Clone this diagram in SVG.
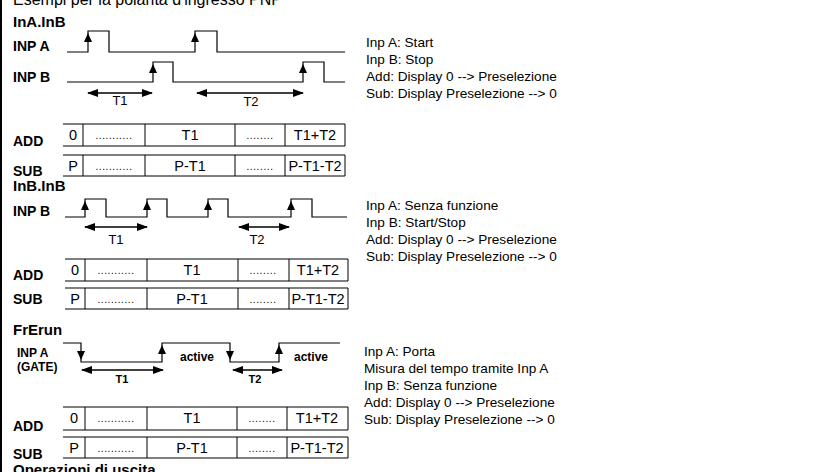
<svg xmlns="http://www.w3.org/2000/svg" width="824" height="472" viewBox="0 0 824 472">
<style>
text{font-family:"Liberation Sans",Arial,sans-serif;fill:#000}
.h{font-size:15px;font-weight:bold}
.lb{font-size:14px;font-weight:bold}
.sm{font-size:12px;font-weight:bold}
.t{font-size:13px}
.c{font-size:14.5px;text-anchor:middle}
.d{font-size:10px;text-anchor:middle;letter-spacing:0.6px}
.r{font-size:13.6px}
.w{fill:none;stroke:#000;stroke-width:1.2}
.g{fill:none;stroke:#000;stroke-width:1}
.a{fill:none;stroke:#000;stroke-width:1.5;marker-start:url(#ah);marker-end:url(#ah)}
</style>
<defs>
<marker id="ah" markerUnits="userSpaceOnUse" markerWidth="11" markerHeight="8" refX="10" refY="4" orient="auto-start-reverse"><path d="M0,0 L11,4 L0,8 Z" fill="#000"/></marker>
<path id="up" d="M0,0 L-4,9 L4,9 Z" fill="#000"/>
<path id="dn" d="M0,0 L-4,-9 L4,-9 Z" fill="#000"/>
</defs>
<rect x="0" y="0" width="2" height="472" fill="#000"/>
<text x="13" y="5" style="font-size:16px">Esempi per la polarità d'ingresso PNP</text>

<g id="sec1">
<text class="h" x="13" y="27">InA.InB</text>
<text class="lb" x="13" y="51">INP A</text>
<text class="lb" x="13" y="82">INP B</text>
<g id="sec1-wave">
<path class="w" d="M67,52 H88 V31 H109 V52 H195 V31 H217 V52 H345"/>
<path class="w" d="M67,82 H153 V62 H173 V82 H303 V62 H324 V82 H345"/>
<use href="#up" x="88" y="33"/><use href="#up" x="195" y="33"/>
<use href="#up" x="153" y="64"/><use href="#up" x="303" y="64"/>
<line class="a" x1="88" y1="93" x2="152" y2="93"/>
<line class="a" x1="197" y1="93" x2="303" y2="93"/>
<text class="t" x="120" y="105" text-anchor="middle">T1</text>
<text class="t" x="251" y="106" text-anchor="middle">T2</text>
</g>
<g id="sec1-text">
<text class="r" x="366" y="47">Inp A: Start</text>
<text class="r" x="366" y="64">Inp B: Stop</text>
<text class="r" x="366" y="81">Add: Display 0 --&gt; Preselezione</text>
<text class="r" x="366" y="98">Sub: Display Preselezione --&gt; 0</text>
</g>
<g id="sec1-table">
<text class="lb" x="13" y="146">ADD</text>
<text class="lb" x="13" y="176">SUB</text>
<path class="g" d="M63,124 H345 M63,146 H345 M83,124 V146 M145,124 V146 M235,124 V146 M285,124 V146 M345,124 V146"/>
<path class="g" d="M63,155 H345 M63,176 H345 M83,155 V176 M145,155 V176 M235,155 V176 M285,155 V176 M345,155 V176"/>
<text class="c" x="73" y="140">0</text><text class="d" x="114" y="139">...........</text><text class="c" x="190" y="140">T1</text><text class="d" x="260" y="139">........</text><text class="c" x="315" y="140">T1+T2</text>
<text class="c" x="73" y="171">P</text><text class="d" x="114" y="170">...........</text><text class="c" x="190" y="171">P-T1</text><text class="d" x="260" y="170">........</text><text class="c" x="315" y="171">P-T1-T2</text>
</g>
</g>

<g id="sec2">
<text class="h" x="13" y="191">InB.InB</text>
<text class="lb" x="13" y="216">INP B</text>
<g id="sec2-wave">
<path class="w" d="M65,217 H85 V199 H106 V217 H147 V199 H167 V217 H208 V199 H228 V217 H291 V199 H312 V217 H347"/>
<use href="#up" x="85" y="201"/><use href="#up" x="147" y="201"/><use href="#up" x="208" y="201"/><use href="#up" x="291" y="201"/>
<line class="a" x1="85" y1="227" x2="147" y2="227"/>
<line class="a" x1="239" y1="227" x2="289" y2="227"/>
<text class="t" x="116" y="244" text-anchor="middle">T1</text>
<text class="t" x="257" y="244" text-anchor="middle">T2</text>
</g>
<g id="sec2-text">
<text class="r" x="366" y="210">Inp A: Senza funzione</text>
<text class="r" x="366" y="227">Inp B: Start/Stop</text>
<text class="r" x="366" y="244">Add: Display 0 --&gt; Preselezione</text>
<text class="r" x="366" y="261">Sub: Display Preselezione --&gt; 0</text>
</g>
<g id="sec2-table">
<text class="lb" x="13" y="280">ADD</text>
<text class="lb" x="13" y="304">SUB</text>
<path class="g" d="M65,259 H348 M65,281 H348 M85,259 V281 M147,259 V281 M238,259 V281 M289,259 V281 M348,259 V281"/>
<path class="g" d="M65,288 H348 M65,309 H348 M85,288 V309 M147,288 V309 M238,288 V309 M289,288 V309 M348,288 V309"/>
<text class="c" x="75" y="275">0</text><text class="d" x="116" y="274">...........</text><text class="c" x="192" y="275">T1</text><text class="d" x="263" y="274">........</text><text class="c" x="318" y="275">T1+T2</text>
<text class="c" x="75" y="304">P</text><text class="d" x="116" y="303">...........</text><text class="c" x="192" y="304">P-T1</text><text class="d" x="263" y="303">........</text><text class="c" x="318" y="304">P-T1-T2</text>
</g>
</g>

<g id="sec3">
<text class="h" x="13" y="335">FrErun</text>
<text class="sm" x="17" y="357">INP A</text>
<text class="sm" x="17" y="371">(GATE)</text>
<g id="sec3-wave">
<path class="w" d="M63,343 H81 V362 H162 V343 H230 V362 H279 V343 H340"/>
<use href="#dn" x="81" y="360"/><use href="#up" x="162" y="345"/><use href="#dn" x="230" y="360"/><use href="#up" x="279" y="345"/>
<text class="sm" x="180" y="361">active</text>
<text class="sm" x="294" y="361">active</text>
<line class="a" x1="82" y1="370" x2="163" y2="370"/>
<line class="a" x1="233" y1="370" x2="282" y2="370"/>
<text class="sm" x="122" y="383" text-anchor="middle" style="font-size:11px">T1</text>
<text class="sm" x="255" y="383" text-anchor="middle" style="font-size:11px">T2</text>
</g>
<g id="sec3-text">
<text class="r" x="364" y="356">Inp A: Porta</text>
<text class="r" x="364" y="373">Misura del tempo tramite Inp A</text>
<text class="r" x="364" y="390">Inp B: Senza funzione</text>
<text class="r" x="364" y="407">Add: Display 0 --&gt; Preselezione</text>
<text class="r" x="364" y="424">Sub: Display Preselezione --&gt; 0</text>
</g>
<g id="sec3-table">
<text class="lb" x="13" y="431">ADD</text>
<text class="lb" x="13" y="459">SUB</text>
<path class="g" d="M63,407 H348 M63,430 H348 M85,407 V430 M147,407 V430 M237,407 V430 M287,407 V430 M348,407 V430"/>
<path class="g" d="M63,437 H348 M63,458 H348 M85,437 V458 M147,437 V458 M237,437 V458 M287,437 V458 M348,437 V458"/>
<text class="c" x="74" y="423">0</text><text class="d" x="116" y="422">...........</text><text class="c" x="192" y="423">T1</text><text class="d" x="262" y="422">........</text><text class="c" x="317" y="423">T1+T2</text>
<text class="c" x="74" y="453">P</text><text class="d" x="116" y="452">...........</text><text class="c" x="192" y="453">P-T1</text><text class="d" x="262" y="452">........</text><text class="c" x="317" y="453">P-T1-T2</text>
</g>
</g>
<text class="h" x="13" y="475">Operazioni di uscita</text>
</svg>
